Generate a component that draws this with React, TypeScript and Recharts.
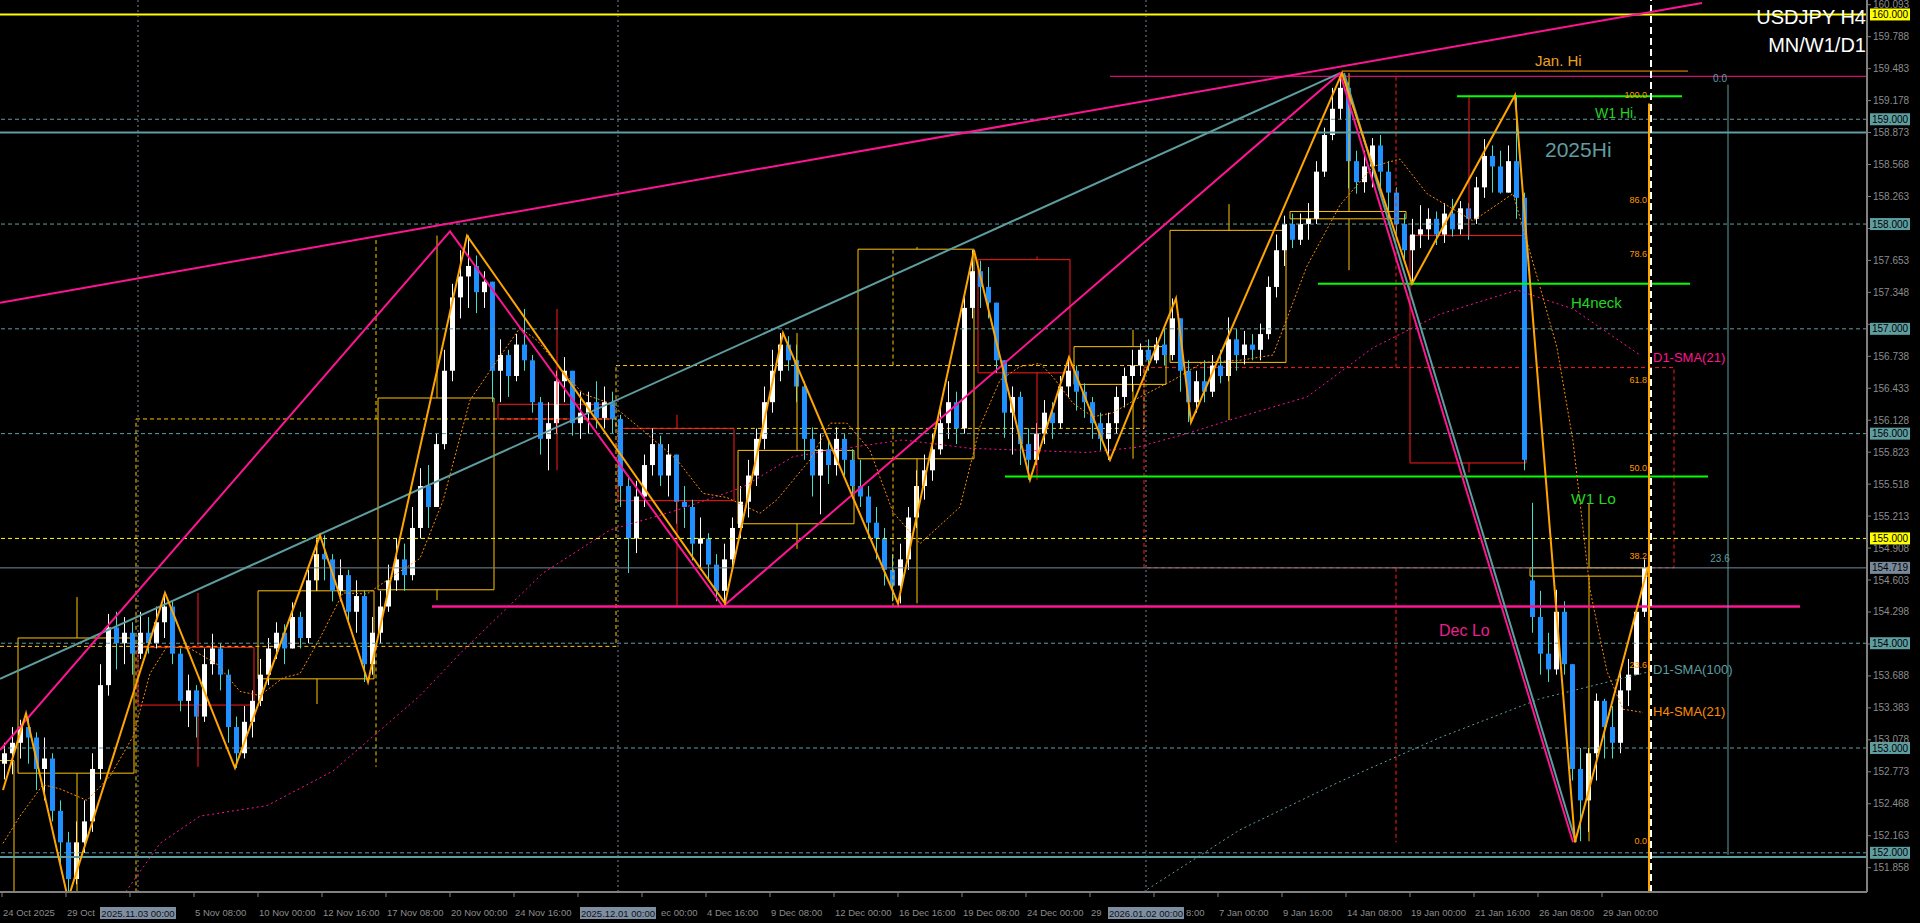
import React from "react";
import {
  ComposedChart,
  Bar,
  Line,
  XAxis,
  YAxis,
  ReferenceLine,
  ReferenceArea,
  ReferenceDot,
} from "recharts";

const FONT = "'Liberation Sans', Arial, sans-serif";

// x axis is in H4 bar units (bar 0 = 24 Oct 2025 08:00), each drawn candle = 2 H4 bars
const firstOpen = 152.85;
const gapOpens = [[191, 154.6]];

const closes = [
  152.95, 153.05, 153.2, 153.1, 152.8, 152.9, 152.4, 152.1, 151.75, 152.1,
  152.3, 152.8, 153.6, 154.15, 154.0, 154.1, 153.9, 154.1, 154.0, 154.2,
  154.35, 153.9, 153.45, 153.55, 153.3, 153.8, 153.95, 153.7, 153.2, 152.95,
  153.25, 153.45, 153.7, 153.95, 154.1, 153.95, 154.25, 154.05, 154.6, 154.85,
  154.8, 154.5, 154.65, 154.3, 154.45, 153.8, 154.1, 154.35, 154.6, 154.8,
  154.65, 155.1, 155.5, 155.3, 155.9, 156.6, 157.3, 157.5, 157.6, 157.35,
  157.45, 156.6, 156.75, 156.55, 156.85, 156.7, 156.3, 155.95, 156.1, 156.5,
  156.6, 156.1, 156.2, 156.3, 156.15, 156.3, 156.14, 155.5, 155.0, 155.4,
  155.7, 155.9, 155.6, 155.8, 155.35, 155.3, 154.95, 155.0, 154.75, 154.5,
  154.8, 155.1, 155.35, 155.6, 155.95, 156.3, 156.6, 156.85, 156.7, 156.45,
  155.95, 155.6, 155.85, 155.7, 155.95, 155.75, 155.5, 155.4, 155.15, 155.0,
  154.7, 154.55, 154.8, 155.2, 155.5, 155.65, 155.85, 156.1, 156.3, 156.05,
  157.2, 157.55, 157.4, 157.25, 156.7, 156.2, 156.35, 155.9, 155.75, 156.0,
  156.2, 156.1, 156.45, 156.6, 156.4, 156.3, 156.1, 155.95, 156.1, 156.35,
  156.55, 156.65, 156.8, 156.7, 156.85, 156.75, 157.1, 156.6, 156.3, 156.5,
  156.4, 156.65, 156.55, 156.9, 156.75, 156.85, 156.8, 156.95, 157.4, 157.75,
  158.0, 157.85, 158.0, 158.05, 158.5, 158.85, 159.1, 159.3, 158.6, 158.4,
  158.55, 158.75, 158.5, 158.3, 158.0, 157.75, 157.9, 157.95, 158.05, 157.9,
  158.1, 157.95, 158.15, 158.05, 158.35, 158.65, 158.55, 158.3, 158.6, 158.25,
  155.75, 154.25, 153.9, 153.75, 154.3, 153.8, 152.8, 152.5, 152.95, 153.45,
  153.2, 153.05, 153.55, 153.7, 154.3, 154.72,
];

const highs = [
  153.05, 153.2, 153.27, 153.3, 153.15, 153.1, 152.95, 152.5, 152.2, 152.3,
  152.5, 152.95, 153.8, 154.28, 154.3, 154.25, 154.2, 154.3, 154.25, 154.35,
  154.48, 154.4, 153.95, 153.7, 153.6, 153.95, 154.09, 154.0, 153.75, 153.3,
  153.4, 153.55, 153.85, 154.05, 154.2, 154.18, 154.39, 154.3, 154.7, 154.99,
  155.03, 154.85, 154.8, 154.7, 154.6, 154.5, 154.25, 154.5, 154.75, 155.0,
  154.95, 155.3, 155.67, 155.7, 156.0, 156.8, 157.43, 157.75, 157.89, 157.7,
  157.55, 157.45, 156.9, 156.8, 156.95, 157.19, 156.75, 156.35, 156.3, 156.6,
  156.73, 156.6, 156.4, 156.4, 156.5, 156.45, 156.4, 156.18, 155.6, 155.55,
  155.8, 156.05, 155.98, 155.9, 155.8, 155.5, 155.37, 155.2, 155.05, 154.85,
  154.95, 155.2, 155.5, 155.75, 156.05, 156.45, 156.8, 156.96, 156.93, 156.85,
  156.5, 156.06, 156.0, 155.95, 156.06, 156.0, 155.85, 155.75, 155.5, 155.3,
  155.1, 154.85, 154.95, 155.3, 155.65, 155.8, 156.0, 156.25, 156.5, 156.4,
  157.3, 157.75, 157.65, 157.59, 157.25, 156.7, 156.45, 156.4, 156.05, 156.1,
  156.32, 156.3, 156.55, 156.73, 156.65, 156.48, 156.35, 156.2, 156.2, 156.45,
  156.63, 156.8, 156.86, 156.9, 156.92, 157.0, 157.29, 157.1, 156.7, 156.6,
  156.7, 156.75, 156.8, 157.11, 157.0, 156.98, 156.95, 157.05, 157.5, 157.9,
  158.08, 158.1, 158.1, 158.2, 158.6, 158.92, 159.3, 159.44, 159.35, 158.7,
  158.7, 158.82, 158.85, 158.6, 158.35, 158.1, 158.05, 158.18, 158.15, 158.12,
  158.2, 158.24, 158.22, 158.2, 158.45, 158.81, 158.75, 158.7, 158.75, 159.23,
  158.3, 155.34, 154.5, 154.1, 154.51, 154.4, 153.8, 153.0, 153.0, 153.52,
  153.47, 153.4, 153.73, 153.85, 154.36, 154.8,
];

const lows = [
  152.7, 152.75, 152.9, 152.85, 152.6, 152.5, 152.3, 151.9, 151.56, 151.7,
  152.0, 152.2, 152.7, 153.5, 153.75, 153.8, 153.7, 153.85, 153.9, 153.95,
  154.05, 153.8, 153.35, 153.2, 153.1, 153.25, 153.7, 153.55, 153.05, 152.81,
  152.9, 153.1, 153.4, 153.6, 153.85, 153.8, 153.95, 153.95, 154.0, 154.5,
  154.6, 154.4, 154.4, 154.2, 154.1, 153.63, 153.7, 154.0, 154.3, 154.5,
  154.5, 154.6, 155.0, 155.1, 155.3, 155.85, 156.5, 157.1, 157.2, 157.15,
  157.2, 156.3, 156.3, 156.35, 156.5, 156.6, 156.2, 155.8, 155.65, 156.0,
  156.3, 155.98, 155.95, 156.0, 156.05, 156.05, 156.0, 155.3, 154.67, 154.86,
  155.3, 155.6, 155.5, 155.4, 155.14, 155.1, 154.79, 154.7, 154.6, 154.4,
  154.36, 154.7, 155.0, 155.2, 155.5, 155.85, 156.2, 156.5, 156.6, 156.3,
  155.75, 155.4, 155.23, 155.52, 155.6, 155.6, 155.38, 155.3, 155.0, 154.8,
  154.55, 154.4, 154.38, 154.7, 155.1, 155.37, 155.55, 155.8, 155.95, 155.9,
  156.0, 157.1, 157.2, 157.1, 156.58, 155.96, 155.8, 155.7, 155.56, 155.7,
  155.9, 155.95, 156.05, 156.35, 156.22, 156.15, 155.95, 155.84, 155.75, 156.0,
  156.25, 156.4, 156.55, 156.6, 156.67, 156.65, 156.7, 156.4, 156.11, 156.2,
  156.3, 156.35, 156.48, 156.5, 156.6, 156.66, 156.7, 156.7, 156.9, 157.3,
  157.6, 157.77, 157.8, 157.85, 158.0, 158.45, 158.8, 159.0, 158.34, 158.29,
  158.3, 158.35, 158.35, 158.03, 157.9, 157.66, 157.43, 157.77, 157.85, 157.8,
  157.82, 157.88, 157.9, 157.85, 158.0, 158.25, 158.3, 158.29, 158.3, 158.05,
  155.65, 154.1, 153.7, 153.63, 153.7, 153.7, 152.69, 152.11, 152.2, 152.69,
  152.9, 152.9, 152.95, 153.4, 153.7, 154.25,
];

// zigzag turning points (bar, price)
const zigBars = [0.25, 6, 16.5, 40.75, 58.25, 79.5, 91.5, 116.25, 180.75, 195.25, 224, 243, 257, 266.75, 277, 293.5, 297.25, 335, 352.5, 378.25, 393.25, 411.5];
const zigPrices = [152.6, 153.33, 151.56, 154.48, 152.81, 155.03, 153.63, 157.89, 154.38, 156.96, 154.38, 157.75, 155.56, 156.73, 155.75, 157.29, 156.11, 159.44, 157.43, 159.23, 152.1, 154.73];

const pinkBars = [-0.5, 112, 180.25, 334.5, 392.75];
const pinkPrices = [152.98, 157.93, 154.35, 159.44, 152.1];

const tealUpBars = [-0.5, 334.5];
const tealUpPrices = [153.66, 159.44];
const tealDownBars = [335.5, 393.5];
const tealDownPrices = [159.44, 152.1];

const topLineBars = [-0.5, 425];
const topLinePrices = [157.25, 160.11];

// moving averages
const h4SmaBars = [0.25, 4.5, 10.25, 14.5, 21.25, 27, 32.75, 37, 41.25, 47, 53.75, 59.5, 64.5, 70.25, 74.5, 79.5, 85.25, 91.25, 97.75, 104.5, 110.25, 117, 122, 129.5, 133.75, 139.5, 145.25, 152, 160.25, 168.75, 175.25, 181.25, 189.5, 193.75, 202, 207, 211.25, 217, 222.75, 229.5, 239.5, 244.5, 249.5, 254.5, 259.5, 262.75, 267.75, 272.75, 277.75, 284.5, 292.75, 300.25, 309.5, 317.75, 326.25, 334.5, 342.75, 349.5, 356.25, 367.75, 377.75, 384.5, 388.75, 392.75, 397, 401.25, 405.25, 410.25];
const h4SmaVals = [152.09, 152.35, 152.65, 152.61, 152.5, 152.73, 153.11, 153.71, 153.97, 153.95, 153.8, 153.54, 153.5, 153.67, 153.71, 154.05, 154.48, 154.47, 154.64, 154.81, 155.36, 156.32, 156.6, 157.01, 156.89, 156.63, 156.38, 156.29, 156.03, 155.75, 155.43, 155.39, 155.24, 155.37, 155.75, 156.1, 156.1, 155.84, 155.25, 154.95, 155.3, 156.07, 156.51, 156.64, 156.67, 156.54, 156.29, 156.16, 156.2, 156.35, 156.51, 156.68, 156.7, 156.75, 157.6, 158.18, 158.55, 158.62, 158.29, 158.03, 158.29, 157.4, 156.82, 155.93, 154.51, 153.73, 153.37, 153.34];

const d1Sma21Bars = [29.5, 39.5, 49.5, 66.25, 82.75, 104.5, 115.25, 135.25, 152, 168.75, 185.25, 197.75, 207, 225.25, 242, 271.25, 283.75, 296.25, 309.5, 326.25, 342.75, 359.5, 378.75, 392.75, 409.5];
const d1Sma21Vals = [151.55, 152.09, 152.35, 152.45, 152.78, 153.5, 153.93, 154.67, 155.08, 155.27, 155.49, 155.78, 155.84, 155.94, 155.86, 155.82, 155.87, 156.0, 156.16, 156.35, 156.82, 157.14, 157.37, 157.19, 156.75];

const d1Sma100Bars = [284.25, 309.5, 334.5, 359.5, 384.5, 412];
const d1Sma100Vals = [151.6, 152.22, 152.68, 153.1, 153.47, 153.73];

// weekly candles drawn as boxes (W1 overlay)
const wkStart = [-8, 4, 34, 64, 94, 124, 154, 184, 214, 244, 268, 292, 322, 352, 382];
const wkEnd = [3, 33, 63, 93, 123, 153, 183, 213, 243, 267, 291, 321, 351, 381, 411.5];
const wkWick = [-5, 18.75, 49, 78.75, 108.75, 138.75, 168.75, 198.75, 228.75, 258.75, 282.75, 306.75, 336.75, 366.75, 396.75];
const wkOpen = [150.6, 152.76, 153.96, 153.66, 154.51, 156.28, 156.05, 155.14, 155.76, 157.66, 156.47, 156.68, 158.05, 157.89, 154.64];
const wkClose = [152.88, 154.05, 153.41, 154.5, 156.34, 156.14, 155.36, 155.84, 157.76, 156.58, 156.83, 157.94, 158.12, 155.72, 154.72];
const wkHigh = [152.88, 154.44, 154.48, 155.03, 157.89, 157.19, 156.18, 156.96, 157.78, 157.69, 156.99, 158.19, 159.44, 159.23, 155.34];
const wkLow = [150.0, 151.56, 152.82, 153.42, 154.41, 155.65, 154.35, 154.9, 154.38, 155.56, 155.76, 156.13, 157.56, 155.63, 152.11];

// monthly candles (MN overlay, dashed)
const mnStart = [-60, 33.5, 153.5, 285.5];
const mnEnd = [33.5, 153.5, 285.5, 418];
const mnWick = [-30, 93.5, 222.75, 348.5];
const mnOpen = [147.9, 153.97, 156.05, 156.63];
const mnClose = [153.97, 156.14, 156.65, 154.72];
const mnHigh = [154.48, 157.89, 157.75, 159.44];
const mnLow = [146.6, 152.82, 154.35, 152.1];

// horizontal levels
const roundLevels = [159, 158, 157, 156, 154, 153, 152];
const lastPrice = 154.719;
const high2025 = 158.873;
const janHi = [159.41, 159.46];
const janHiFrom = [277, 335];
const janHiTo = [466.25, 421.5];
const w1Hi = 159.22;
const h4Neck = 157.43;
const w1Lo = 155.59;
const decLo = 154.35;

const monthSepBars = [34, 154, 286];
const monthSepLabels = ["2025.11.03 00:00", "2025.12.01 00:00", "2026.01.02 00:00"];

const fibLabels = ["100.0", "86.0", "78.6", "61.8", "50.0", "38.2", "23.6", "0.0"];
const fibPrices = [159.23, 158.23, 157.71, 156.51, 155.67, 154.83, 153.79, 152.11];

const yTicks = [
  160.093, 159.788, 159.483, 159.178, 158.873, 158.568, 158.263, 157.958, 157.653, 157.348,
  157.043, 156.738, 156.433, 156.128, 155.823, 155.518, 155.213, 154.908, 154.603, 154.298,
  153.993, 153.688, 153.383, 153.078, 152.773, 152.468, 152.163, 151.858,
];
// tick values that sit under a price tag on the axis
const yTicksUnderTags = [157.958, 157.043, 153.993];

// date labels; the parts hidden behind the period-separator tags are left out
const tickBars = [0, 16, 32, 48, 64, 80, 96, 112, 128, 144, 160, 176, 192, 208, 224, 240, 256, 272, 288, 304, 320, 336, 352, 368, 384, 400];
const tickLabels = [
  "24 Oct 2025", "29 Oct", "", "5 Nov 08:00", "10 Nov 00:00", "12 Nov 16:00",
  "17 Nov 08:00", "20 Nov 00:00", "24 Nov 16:00", "", "ec 00:00", "4 Dec 16:00",
  "9 Dec 08:00", "12 Dec 00:00", "16 Dec 16:00", "19 Dec 08:00", "24 Dec 00:00", "29",
  "8:00", "7 Jan 00:00", "9 Jan 16:00", "14 Jan 08:00", "19 Jan 00:00", "21 Jan 16:00",
  "26 Jan 08:00", "29 Jan 00:00",
];

const candleData = closes.map((c, k) => {
  const gap = gapOpens.find((g) => g[0] === k);
  const o = gap ? gap[1] : k === 0 ? firstOpen : closes[k - 1];
  return { x: 2 * k + 0.5, o, c, h: highs[k], l: lows[k], range: [lows[k], highs[k]] };
});

const pts = (bars: number[], vals: number[]) => bars.map((x, k) => ({ x, p: vals[k] }));

function Candle(props: any) {
  const { x, y, width, height, payload } = props;
  if (!payload || height == null || isNaN(y)) return null;
  const { o, c, h, l } = payload;
  const top = Math.min(y, y + height);
  const span = Math.abs(height);
  const k = h > l ? span / (h - l) : 0;
  const yO = top + (h - o) * k;
  const yC = top + (h - c) * k;
  const up = c >= o;
  const cx = Math.round(x + width / 2) + 0.5;
  const bodyTop = Math.min(yO, yC);
  const bodyH = Math.max(1, Math.abs(yO - yC));
  return (
    <g>
      <line x1={cx} x2={cx} y1={top} y2={top + span} stroke={up ? "#ffffff" : "#40e0d0"} strokeWidth={1} />
      <rect x={cx - 2.5} y={bodyTop} width={5} height={bodyH} fill={up ? "#ffffff" : "#1e90ff"} />
    </g>
  );
}

const YTick = (p: any) => {
  const v = Number(p.payload.value);
  if (yTicksUnderTags.includes(v)) return null;
  return (
    <text x={p.x} y={p.y} fill="#8c8c8c" fontSize={10} fontFamily={FONT} dominantBaseline="central">
      {v.toFixed(3)}
    </text>
  );
};

// labels that peek out to the right of a separator tag start where the tag ends
const tickDx: Record<number, number> = { 160: 18, 288: 31 };

const XTick = (p: any) => {
  const v = p.payload.value;
  const idx = tickBars.indexOf(v);
  const text = tickLabels[idx];
  if (!text) return null;
  return (
    <text x={p.x + 1 + (tickDx[v] || 0)} y={p.y + 13} fill="#8c8c8c" fontSize={9.5} fontFamily={FONT} dominantBaseline="central">
      {text}
    </text>
  );
};

const axisTag = (text: string, bg: string) => (p: any) => {
  const vb = p.viewBox;
  const x = vb.x + vb.width + 3;
  return (
    <g>
      <rect x={x} y={vb.y - 6} width={40} height={12} fill={bg} />
      <text x={x + 2} y={vb.y} fill="#000" fontSize={10} fontFamily={FONT} dominantBaseline="central">
        {text}
      </text>
    </g>
  );
};

const dateTag = (text: string) => (p: any) => {
  const vb = p.viewBox;
  const bottom = vb.y + vb.height;
  return (
    <g>
      <rect x={vb.x - 38} y={bottom + 15} width={76} height={12} fill="#7d8ea2" />
      <text x={vb.x} y={bottom + 21} textAnchor="middle" fill="#111" fontSize={9.5} fontFamily={FONT} dominantBaseline="central">
        {text}
      </text>
    </g>
  );
};

const note = (text: string, color: string, size: number, anchor: string = "start") => (p: any) => (
  <text
    x={p.viewBox.x}
    y={p.viewBox.y}
    fill={color}
    fontSize={size}
    fontFamily={FONT}
    textAnchor={anchor}
    dominantBaseline="central"
  >
    {text}
  </text>
);

const GOLD = "#ffc400";
const RED = "#ff1a1a";
const PINK = "#ff1493";
const TEAL = "#5f9ea0";
const GREEN = "#00ff00";
const ORANGE = "#ffa500";

function candleBoxes(
  start: number[], end: number[], wick: number[], open: number[], close: number[],
  high: number[], low: number[], dashed: boolean, prefix: string
) {
  const out: React.ReactNode[] = [];
  start.forEach((s, k) => {
    const up = close[k] >= open[k];
    const col = up ? GOLD : RED;
    const hiBody = Math.max(open[k], close[k]);
    const loBody = Math.min(open[k], close[k]);
    const dash = dashed ? "4 3" : undefined;
    out.push(
      <ReferenceArea
        key={`${prefix}b${k}`}
        x1={s}
        x2={end[k]}
        y1={loBody}
        y2={hiBody}
        fill="none"
        fillOpacity={0}
        stroke={col}
        strokeWidth={1}
        strokeDasharray={dash}
        ifOverflow="hidden"
      />
    );
    if (high[k] > hiBody) {
      out.push(
        <ReferenceLine
          key={`${prefix}u${k}`}
          segment={[{ x: wick[k], y: hiBody }, { x: wick[k], y: high[k] }]}
          stroke={col}
          strokeWidth={1}
          strokeDasharray={dash}
          ifOverflow="hidden"
        />
      );
    }
    if (low[k] < loBody) {
      out.push(
        <ReferenceLine
          key={`${prefix}d${k}`}
          segment={[{ x: wick[k], y: loBody }, { x: wick[k], y: low[k] }]}
          stroke={col}
          strokeWidth={1}
          strokeDasharray={dash}
          ifOverflow="hidden"
        />
      );
    }
  });
  return out;
}

export default function App() {
  return (
    <div style={{ position: "relative", width: 1920, height: 923, background: "#000", fontFamily: FONT }}>
      <style>{"html,body{margin:0;padding:0;background:#000;overflow:hidden;}"}</style>
      <ComposedChart
        width={1920}
        height={923}
        data={candleData}
        margin={{ top: 0, right: 0, bottom: 0, left: 0 }}
      >
        <XAxis
          dataKey="x"
          type="number"
          domain={[-0.5, 466.25]}
          allowDataOverflow
          ticks={tickBars}
          interval={0}
          height={31}
          tick={<XTick />}
          tickSize={5}
          tickLine={{ stroke: "#808080" }}
          axisLine={{ stroke: "#808080", strokeWidth: 2 }}
        />
        <YAxis
          orientation="right"
          type="number"
          domain={[151.626, 160.138]}
          allowDataOverflow
          ticks={yTicks}
          interval={0}
          width={53}
          tick={<YTick />}
          tickSize={4}
          tickLine={{ stroke: "#808080" }}
          axisLine={{ stroke: "#808080", strokeWidth: 2 }}
        />

        {candleBoxes(mnStart, mnEnd, mnWick, mnOpen, mnClose, mnHigh, mnLow, true, "m")}
        {candleBoxes(wkStart, wkEnd, wkWick, wkOpen, wkClose, wkHigh, wkLow, false, "w")}

        {roundLevels.map((v) => (
          <ReferenceLine key={`r${v}`} y={v} stroke={TEAL} strokeDasharray="4 3" strokeWidth={1}
            label={axisTag(v.toFixed(3), TEAL)} />
        ))}
        <ReferenceLine y={155} stroke="#ffff00" strokeDasharray="4 3" strokeWidth={1} label={axisTag("155.000", "#ffff00")} />
        <ReferenceLine y={160} stroke="#ffff00" strokeWidth={2} label={axisTag("160.000", "#ffff00")} />
        <ReferenceLine y={high2025} stroke={TEAL} strokeWidth={2} />
        <ReferenceLine y={151.96} stroke={TEAL} strokeWidth={2} />
        <ReferenceLine y={lastPrice} stroke="#778899" strokeWidth={1} label={axisTag(lastPrice.toFixed(3), "#778899")} />

        {monthSepBars.map((b, k) => (
          <ReferenceLine key={`ms${b}`} x={b} stroke="#778899" strokeDasharray="2 3" strokeWidth={1}
            label={dateTag(monthSepLabels[k])} />
        ))}

        <ReferenceLine segment={[{ x: janHiFrom[0], y: janHi[0] }, { x: janHiTo[0], y: janHi[0] }]} stroke={PINK} strokeWidth={1} ifOverflow="hidden" />
        <ReferenceLine segment={[{ x: janHiFrom[1], y: janHi[1] }, { x: janHiTo[1], y: janHi[1] }]} stroke="#ff9900" strokeWidth={1} ifOverflow="hidden" />
        <ReferenceLine segment={[{ x: 363.75, y: w1Hi }, { x: 420, y: w1Hi }]} stroke={GREEN} strokeWidth={2} ifOverflow="hidden" />
        <ReferenceLine segment={[{ x: 329, y: h4Neck }, { x: 422, y: h4Neck }]} stroke={GREEN} strokeWidth={2} ifOverflow="hidden" />
        <ReferenceLine segment={[{ x: 250.75, y: w1Lo }, { x: 426.5, y: w1Lo }]} stroke={GREEN} strokeWidth={2} ifOverflow="hidden" />
        <ReferenceLine segment={[{ x: 107.5, y: decLo }, { x: 449.5, y: decLo }]} stroke={PINK} strokeWidth={2.5} ifOverflow="hidden" />

        <ReferenceLine segment={[{ x: 412.25, y: 151.626 }, { x: 412.25, y: 160.138 }]} stroke="#ffffff" strokeWidth={2} strokeDasharray="7 4" ifOverflow="hidden" />
        <ReferenceLine segment={[{ x: 411.75, y: 151.626 }, { x: 411.75, y: 159.15 }]} stroke={ORANGE} strokeWidth={2} ifOverflow="hidden" />
        <ReferenceLine segment={[{ x: 431.5, y: 151.98 }, { x: 431.5, y: 159.33 }]} stroke={TEAL} strokeWidth={1} ifOverflow="hidden" />

        <Bar dataKey="range" barSize={5} shape={<Candle />} isAnimationActive={false} />

        <Line data={pts(d1Sma100Bars, d1Sma100Vals)} dataKey="p" stroke={TEAL} strokeWidth={1} strokeDasharray="2 3" dot={false} activeDot={false} isAnimationActive={false} />
        <Line data={pts(d1Sma21Bars, d1Sma21Vals)} dataKey="p" stroke={PINK} strokeWidth={1} strokeDasharray="2 3" dot={false} activeDot={false} isAnimationActive={false} />
        <Line data={pts(h4SmaBars, h4SmaVals)} dataKey="p" stroke="#ff8c00" strokeWidth={1} strokeDasharray="2 2" dot={false} activeDot={false} isAnimationActive={false} />

        <Line data={pts(topLineBars, topLinePrices)} dataKey="p" stroke={PINK} strokeWidth={2} dot={false} activeDot={false} isAnimationActive={false} />
        <Line data={pts(tealUpBars, tealUpPrices)} dataKey="p" stroke={TEAL} strokeWidth={2} dot={false} activeDot={false} isAnimationActive={false} />
        <Line data={pts(tealDownBars, tealDownPrices)} dataKey="p" stroke={TEAL} strokeWidth={2} dot={false} activeDot={false} isAnimationActive={false} />
        <Line data={pts(pinkBars, pinkPrices)} dataKey="p" stroke={PINK} strokeWidth={2} dot={false} activeDot={false} isAnimationActive={false} />
        <Line data={pts(zigBars, zigPrices)} dataKey="p" stroke={ORANGE} strokeWidth={2} dot={false} activeDot={false} isAnimationActive={false} />

        {fibLabels.map((t, k) => (
          <ReferenceDot key={`f${t}`} x={411.25} y={fibPrices[k]} r={0} fill="none" stroke="none"
            label={note(t, "#ff9900", 9, "end")} />
        ))}
        <ReferenceDot x={429.5} y={159.39} r={0} fill="none" stroke="none" label={note("0.0", TEAL, 10, "middle")} />
        <ReferenceDot x={429.5} y={154.81} r={0} fill="none" stroke="none" label={note("23.6", TEAL, 10, "middle")} />

        <ReferenceDot x={383.25} y={159.565} r={0} fill="none" stroke="none" label={note("Jan. Hi", "#f0a020", 15)} />
        <ReferenceDot x={398.25} y={159.06} r={0} fill="none" stroke="none" label={note("W1 Hi.", "#22d622", 14)} />
        <ReferenceDot x={385.75} y={158.713} r={0} fill="none" stroke="none" label={note("2025Hi", TEAL, 21)} />
        <ReferenceDot x={392.25} y={157.25} r={0} fill="none" stroke="none" label={note("H4neck", "#22d622", 15)} />
        <ReferenceDot x={392.25} y={155.38} r={0} fill="none" stroke="none" label={note("W1 Lo", "#22d622", 15.5)} />
        <ReferenceDot x={359.25} y={154.12} r={0} fill="none" stroke="none" label={note("Dec Lo", "#e8208f", 16)} />
        <ReferenceDot x={412.75} y={156.725} r={0} fill="none" stroke="none" label={note("D1-SMA(21)", PINK, 13)} />
        <ReferenceDot x={412.75} y={153.745} r={0} fill="none" stroke="none" label={note("D1-SMA(100)", TEAL, 13)} />
        <ReferenceDot x={412.75} y={153.35} r={0} fill="none" stroke="none" label={note("H4-SMA(21)", "#ff8c00", 13)} />
      </ComposedChart>
      <div
        style={{
          position: "absolute",
          right: 54,
          top: 3,
          color: "#ffffff",
          fontSize: 20,
          lineHeight: "28px",
          textAlign: "right",
          fontFamily: FONT,
        }}
      >
        USDJPY H4
        <br />
        MN/W1/D1
      </div>
    </div>
  );
}
